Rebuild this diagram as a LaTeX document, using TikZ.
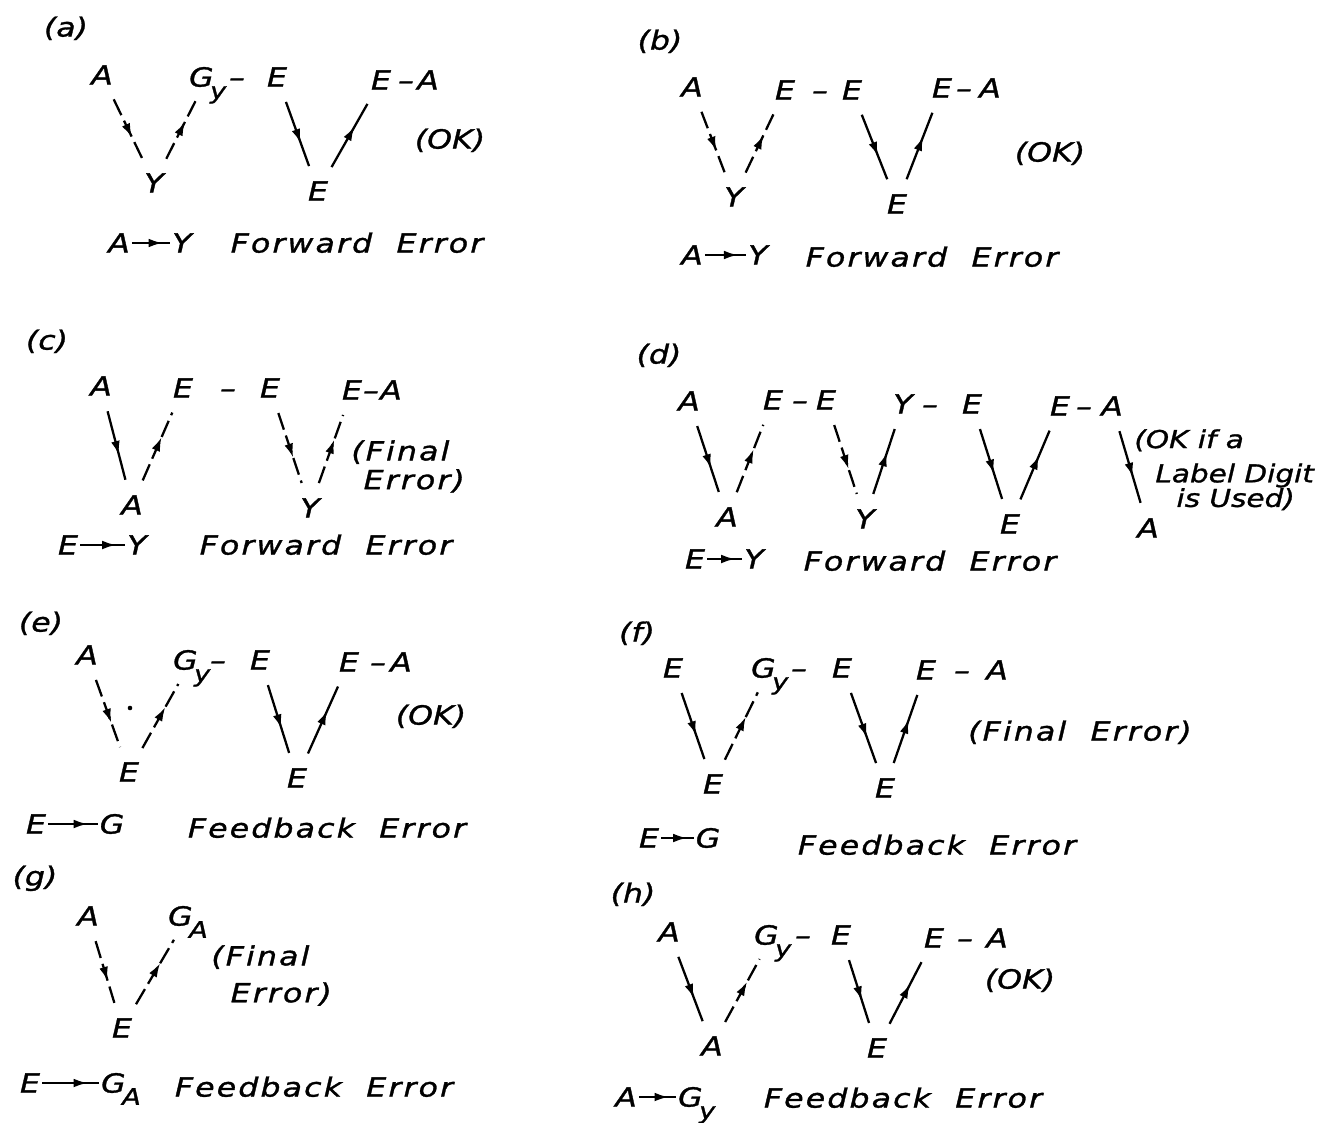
\documentclass[tikz,border=0pt]{standalone}
\usepackage{fontspec}
\newfontfamily\lettering{DejaVu Sans}[FakeStretch=1.2,FakeBold=1.2]
\newfontfamily\wording{DejaVu Sans}[FakeStretch=1.2,FakeBold=1.2,LetterSpace=8,WordSpace=2]
\usetikzlibrary{arrows.meta,decorations.markings}

\newcommand{\lsub}[1]{\kern-2pt\raisebox{-0.85ex}{\fontsize{13}{13}\selectfont #1}}

\tikzset{
  lt/.style={font=\lettering\itshape\fontsize{15}{15}\selectfont,
    inner sep=1pt, text height=10.9pt, text depth=0pt},
  words/.style={lt, font=\wording\itshape\fontsize{15}{15}\selectfont},
  note/.style={font=\wording\itshape\fontsize{15}{15}\selectfont,
    inner sep=0pt, align=left, anchor=north west},
  midtip/.style={postaction={decorate,decoration={markings,
    mark=at position #1 with {\arrow{Latex[length=8pt,width=5pt]}}}}},
  arm/.style={line width=1.3pt, shorten <=8pt, shorten >=8pt, midtip=0.6},
  broken/.style={arm, dash pattern=on 10pt off 3.5pt},
  rel/.style={line width=1.3pt, midtip=0.8}
}

\begin{document}
\begin{tikzpicture}[x=0.02cm,y=-0.02cm]
\useasboundingbox (0,0) rectangle (1328,1122);

% (a)
\node[lt] (aL) at (66,27) {(a)};
\node[lt] (aA) at (102,75) {A};
\node[lt, anchor=west] (aG) at (187,77) {G\lsub{y}};
\node[lt] (aD1) at (237,77) {–};
\node[lt] (aE1) at (277,77) {E};
\node[lt] (aE2) at (381,80) {E};
\node[lt] (aD2) at (406,80) {–};
\node[lt] (aA2) at (428,80) {A};
\node[lt] (aY) at (154,183) {Y};
\node[lt] (aE3) at (318,191) {E};
\node[lt] (aOK) at (450,139) {(OK)};
\node[lt] (aR1) at (119,243) {A};
\node[lt] (aR2) at (182,243) {Y};
\node[words] (aT) at (357,243) {Forward Error};
\draw[broken] (aA) -- (aY);
\draw[broken] (aY) -- (aG);
\draw[arm] (aE1) -- (aE3);
\draw[arm] (aE3) -- (aE2);
\draw[rel] (aR1) -- (aR2);

% (b)
\node[lt] (bL) at (660,40) {(b)};
\node[lt] (bA) at (692,87) {A};
\node[lt] (bE1) at (785,90) {E};
\node[lt] (bD1) at (820,90) {–};
\node[lt] (bE2) at (852,90) {E};
\node[lt] (bE3) at (942,88) {E};
\node[lt] (bD2) at (964,88) {–};
\node[lt] (bA2) at (990,88) {A};
\node[lt] (bY) at (734,197) {Y};
\node[lt] (bE4) at (897,204) {E};
\node[lt] (bOK) at (1050,152) {(OK)};
\node[lt] (bR1) at (692,255) {A};
\node[lt] (bR2) at (758,255) {Y};
\node[words] (bT) at (932,257) {Forward Error};
\draw[broken] (bA) -- (bY);
\draw[broken] (bY) -- (bE1);
\draw[arm] (bE2) -- (bE4);
\draw[arm] (bE4) -- (bE3);
\draw[rel] (bR1) -- (bR2);

% (c)
\node[lt] (cL) at (47,340) {(c)};
\node[lt] (cA) at (101,386) {A};
\node[lt] (cE1) at (183,388) {E};
\node[lt] (cD1) at (228,388) {–};
\node[lt] (cE2) at (270,388) {E};
\node[lt] (cE3) at (352,390) {E};
\node[lt] (cD2) at (371,390) {–};
\node[lt] (cA2) at (391,390) {A};
\node[lt] (cA3) at (132,505) {A};
\node[lt] (cY) at (310,508) {Y};
\node[note] (cN) at (351,440) {(Final\\[1.4pt]\hspace{7pt}Error)};
\node[lt] (cR1) at (68,545) {E};
\node[lt] (cR2) at (137,545) {Y};
\node[words] (cT) at (326,545) {Forward Error};
\draw[arm] (cA) -- (cA3);
\draw[broken] (cA3) -- (cE1);
\draw[broken] (cE2) -- (cY);
\draw[broken] (cY) -- (cE3);
\draw[rel] (cR1) -- (cR2);

% (d)
\node[lt] (dL) at (659,354) {(d)};
\node[lt] (dA) at (689,401) {A};
\node[lt] (dE1) at (773,400) {E};
\node[lt] (dD1) at (800,400) {–};
\node[lt] (dE2) at (826,400) {E};
\node[lt] (dY) at (903,404) {Y};
\node[lt] (dD2) at (930,404) {–};
\node[lt] (dE3) at (972,404) {E};
\node[lt] (dE4) at (1060,406) {E};
\node[lt] (dD3) at (1084,406) {–};
\node[lt] (dA2) at (1112,406) {A};
\node[lt] (dA3) at (727,517) {A};
\node[lt] (dY2) at (865,519) {Y};
\node[lt] (dE5) at (1010,524) {E};
\node[lt] (dA4) at (1148,528) {A};
\node[note, font=\lettering\itshape\fontsize{14}{14}\selectfont] (dN) at (1134,429)
  {(OK if a\\[5.5pt]\hspace{12pt}Label Digit\\[0pt]\hspace{24pt}is Used)};
\node[lt] (dR1) at (695,559) {E};
\node[lt] (dR2) at (754,559) {Y};
\node[words] (dT) at (930,561) {Forward Error};
\draw[arm] (dA) -- (dA3);
\draw[broken] (dA3) -- (dE1);
\draw[broken] (dE2) -- (dY2);
\draw[arm] (dY2) -- (dY);
\draw[arm] (dE3) -- (dE5);
\draw[arm] (dE5) -- (dE4);
\draw[arm] (dA2) -- (dA4);
\draw[rel] (dR1) -- (dR2);

% (e)
\node[lt] (eL) at (41,622) {(e)};
\node[lt] (eA) at (87,655) {A};
\node[lt, anchor=west] (eG) at (171,660) {G\lsub{y}};
\node[lt] (eD1) at (218,660) {–};
\node[lt] (eE1) at (260,660) {E};
\node[lt] (eE2) at (349,662) {E};
\node[lt] (eD2) at (378,662) {–};
\node[lt] (eA2) at (401,662) {A};
\node[lt] (eE3) at (129,772) {E};
\node[lt] (eE4) at (297,778) {E};
\node[lt] (eOK) at (431,715) {(OK)};
\node[lt] (eR1) at (36,824) {E};
\node[lt] (eR2) at (112,824) {G};
\node[words] (eT) at (327,828) {Feedback Error};
\fill (130,708) circle (1.3pt);
\draw[broken] (eA) -- (eE3);
\draw[broken] (eE3) -- (eG);
\draw[arm] (eE1) -- (eE4);
\draw[arm] (eE4) -- (eE2);
\draw[rel] (eR1) -- (eR2);

% (f)
\node[lt] (fL) at (637,632) {(f)};
\node[lt] (fE) at (673,668) {E};
\node[lt, anchor=west] (fG) at (749,668) {G\lsub{y}};
\node[lt] (fD1) at (799,668) {–};
\node[lt] (fE1) at (842,668) {E};
\node[lt] (fE2) at (926,670) {E};
\node[lt] (fD2) at (962,670) {–};
\node[lt] (fA2) at (997,670) {A};
\node[lt] (fE3) at (713,784) {E};
\node[lt] (fE4) at (885,788) {E};
\node[words] (fN) at (1080,731) {(Final Error)};
\node[lt] (fR1) at (649,838) {E};
\node[lt] (fR2) at (708,838) {G};
\node[words] (fT) at (937,845) {Feedback Error};
\draw[arm] (fE) -- (fE3);
\draw[broken] (fE3) -- (fG);
\draw[arm] (fE1) -- (fE4);
\draw[arm] (fE4) -- (fE2);
\draw[rel] (fR1) -- (fR2);

% (g)
\node[lt] (gL) at (35,876) {(g)};
\node[lt] (gA) at (88,916) {A};
\node[lt, anchor=west] (gG) at (166,916) {G\lsub{A}};
\node[note] (gN) at (211,945) {(Final\\[6pt]\hspace{11pt}Error)};
\node[lt] (gE) at (122,1028) {E};
\node[lt] (gR1) at (30,1083) {E};
\node[lt, anchor=west] (gR2) at (99,1083) {G\lsub{A}};
\node[words] (gT) at (314,1087) {Feedback Error};
\draw[broken] (gA) -- (gE);
\draw[broken] (gE) -- (gG);
\draw[rel] (gR1) -- (gR2);

% (h)
\node[lt] (hL) at (633,893) {(h)};
\node[lt] (hA) at (669,932) {A};
\node[lt, anchor=west] (hG) at (752,935) {G\lsub{y}};
\node[lt] (hD1) at (803,935) {–};
\node[lt] (hE1) at (841,935) {E};
\node[lt] (hE2) at (934,938) {E};
\node[lt] (hD2) at (965,938) {–};
\node[lt] (hA2) at (997,938) {A};
\node[lt] (hOK) at (1020,979) {(OK)};
\node[lt] (hA3) at (712,1046) {A};
\node[lt] (hE3) at (877,1048) {E};
\node[lt] (hR1) at (626,1097) {A};
\node[lt, anchor=west] (hR2) at (676,1097) {G\lsub{y}};
\node[words] (hT) at (903,1098) {Feedback Error};
\draw[arm] (hA) -- (hA3);
\draw[broken] (hA3) -- (hG);
\draw[arm] (hE1) -- (hE3);
\draw[arm] (hE3) -- (hE2);
\draw[rel] (hR1) -- (hR2);
\end{tikzpicture}
\end{document}
